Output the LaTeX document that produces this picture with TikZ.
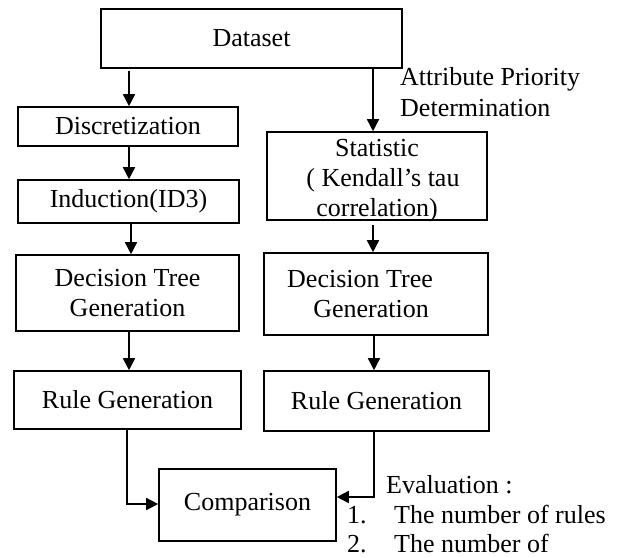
\documentclass[tikz,border=0pt]{standalone}
\usepackage{fontspec}
\setmainfont{Liberation Serif}
\usetikzlibrary{arrows.meta}
\begin{document}
\begin{tikzpicture}[x=1pt,y=-1pt,
  font=\fontsize{26}{30}\selectfont,
  box/.style={draw, line width=1.6pt, inner sep=0pt, align=center},
  arr/.style={line width=1.6pt, -{Triangle[length=12pt,width=12pt]}},
  lbl/.style={inner sep=0pt}]
\useasboundingbox (0,0) rectangle (626,557);

% boxes
\node[box, minimum width=301pt, minimum height=59pt] (data) at (251.5,38.5) {Dataset};
\node[box, minimum width=220pt, minimum height=39pt] (disc) at (128,126.5) {Discretization};
\node[box, minimum width=221pt, minimum height=43pt] (ind) at (128.5,201.5) {Induction(ID3)};
\node[box, minimum width=223pt, minimum height=76pt] (dtl) at (127.5,293) {Decision Tree\\Generation};
\node[box, minimum width=227pt, minimum height=58pt] (rl) at (127.5,400) {Rule Generation};
\node[box, minimum width=220pt, minimum height=88pt] (stat) at (377,176) {};
\node[lbl, align=center] (statT) at (377,180.5) {Statistic\\\rule{12pt}{0pt}( Kendall’s tau\\correlation)};
\node[box, minimum width=224pt, minimum height=82pt] (dtr) at (376,294) {Decision Tree\rule{32pt}{0pt}\\Generation\rule{10pt}{0pt}};
\node[box, minimum width=225pt, minimum height=60pt] (rr) at (376.5,401) {Rule Generation};
\node[box, minimum width=177pt, minimum height=72pt] (comp) at (247.5,505) {Comparison};

% labels
\node[lbl, anchor=base west] (attr1) at (400,85) {Attribute Priority};
\node[lbl, anchor=base west] (attr2) at (400,116) {Determination};
\node[lbl, anchor=base west] (ev0) at (386,493) {Evaluation :};
\node[lbl, anchor=base west] (ev1) at (347,523) {\makebox[47pt][l]{1.}The number of rules};
\node[lbl, anchor=base west] (ev2) at (347,552) {\makebox[47pt][l]{2.}The number of};

% column coordinates
\coordinate (lcol) at (129,0);
\coordinate (lcolb) at (131,0);
\coordinate (rcol) at (373,0);
\coordinate (lout) at (127,0);
\coordinate (rout) at (374,0);

% connectors
\draw[arr] ([yshift=-2pt]data.south -| lcol) -- (disc.north -| lcol);
\draw[arr] (disc.south -| lcol) -- (ind.north -| lcol);
\draw[arr] (ind.south -| lcolb) -- (dtl.north -| lcolb);
\draw[arr] (dtl.south -| lcol) -- (rl.north -| lcol);
\draw[arr] (data.south -| rcol) -- (stat.north -| rcol);
\draw[arr] ([yshift=-4pt]stat.south -| rcol) -- (dtr.north -| rcol);
\draw[arr] (dtr.south -| rout) -- (rr.north -| rout);
\draw[arr] (rl.south -| lout) |- ([yshift=1pt]comp.west);
\draw[arr] (rr.south -| rout) |- ([yshift=8pt]comp.east);
\end{tikzpicture}
\end{document}
